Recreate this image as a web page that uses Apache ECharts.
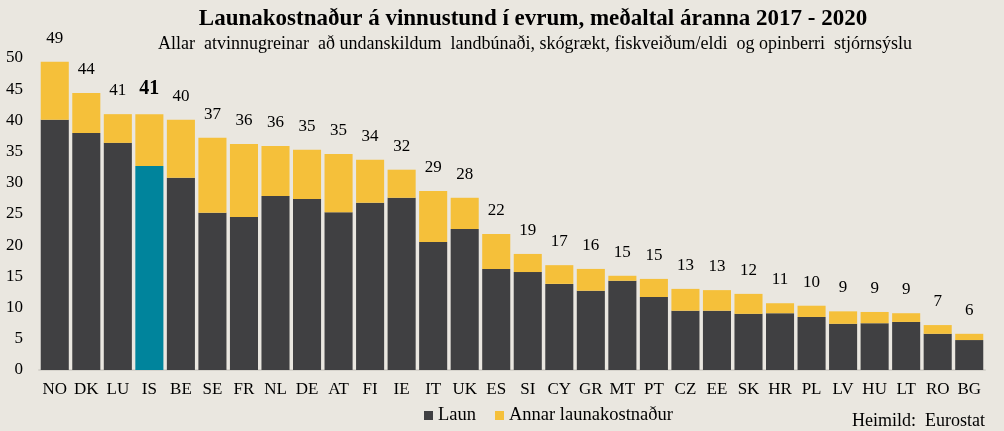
<!DOCTYPE html>
<html>
<head>
<meta charset="utf-8">
<script src="https://cdn.jsdelivr.net/npm/echarts@6/dist/echarts.min.js"></script>
<style>
html,body{margin:0;padding:0;background:#EAE7E0;}
#c{width:1004px;height:431px;}
</style>
</head>
<body>
<div id="c"></div>
<script>
const categories = ['NO','DK','LU','IS','BE','SE','FR','NL','DE','AT','FI','IE','IT','UK','ES','SI','CY','GR','MT','PT','CZ','EE','SK','HR','PL','LV','HU','LT','RO','BG'];
const laun = [40.1,38.0,36.4,32.7,30.8,25.2,24.5,27.9,27.4,25.3,26.8,27.6,20.5,22.6,16.2,15.7,13.8,12.7,14.3,11.7,9.5,9.5,9.0,9.1,8.5,7.4,7.5,7.7,5.8,4.8];
const total = [49.4,44.4,41.0,41.0,40.1,37.2,36.2,35.9,35.3,34.6,33.7,32.1,28.7,27.6,21.8,18.6,16.8,16.2,15.1,14.6,13.0,12.8,12.2,10.7,10.3,9.4,9.3,9.1,7.2,5.8];
const highlight = 'IS';

const serif = '"Liberation Serif","Times New Roman",serif';
const annar = total.map((t,i)=> +(t - laun[i]).toFixed(2));

const launData = laun.map((v,i)=> categories[i]===highlight ? {value:v, itemStyle:{color:'#00849C'}} : v);
const annarData = annar.map((v,i)=> categories[i]===highlight ? {value:v, label:{fontWeight:'bold', fontSize:20}} : v);

const chart = echarts.init(document.getElementById('c'));
chart.setOption({
  backgroundColor:'#EAE7E0',
  animation:false,
  title:[
    {text:'Launakostnaður á vinnustund í evrum, meðaltal áranna 2017 - 2020', left:528, top:3, textAlign:'center',
     textStyle:{fontFamily:serif, fontSize:23, fontWeight:'bold', color:'#000'}},
    {text:'Allar  atvinnugreinar  að undanskildum  landbúnaði, skógrækt, fiskveiðum/eldi  og opinberri  stjórnsýslu', left:530, top:30, textAlign:'center',
     textStyle:{fontFamily:serif, fontSize:18, fontWeight:'normal', color:'#000'}},
    {text:'Heimild:  Eurostat', right:14, top:407,
     textStyle:{fontFamily:serif, fontSize:18, fontWeight:'normal', color:'#000'}}
  ],
  legend:{
    left:419, top:401, itemWidth:9, itemHeight:9, itemGap:19,
    icon:'rect',
    textStyle:{fontFamily:serif, fontSize:18.5, color:'#000'},
    data:['Laun','Annar launakostnaður']
  },
  grid:{left:39, right:19, top:58, bottom:61},
  xAxis:{
    type:'category', data:categories,
    axisLine:{show:true, lineStyle:{color:'#D6D3CC', width:2}},
    axisTick:{show:false},
    axisLabel:{fontFamily:serif, fontSize:17, color:'#000', margin:11, interval:0}
  },
  yAxis:{
    type:'value', min:0, max:50, interval:5,
    axisLine:{show:false}, axisTick:{show:false},
    splitLine:{show:false},
    axisLabel:{fontFamily:serif, fontSize:17, color:'#000', margin:16}
  },
  series:[
    {name:'Laun', type:'bar', stack:'a', data:launData, barCategoryGap:'11%',
     itemStyle:{color:'#404042'}},
    {name:'Annar launakostnaður', type:'bar', stack:'a', data:annarData,
     itemStyle:{color:'#F5C03A'},
     label:{show:true, position:'top', distance:15, fontFamily:serif, fontSize:17, color:'#000',
       formatter:(p)=> String(Math.round(total[p.dataIndex]))}}
  ]
});
</script>
</body>
</html>
